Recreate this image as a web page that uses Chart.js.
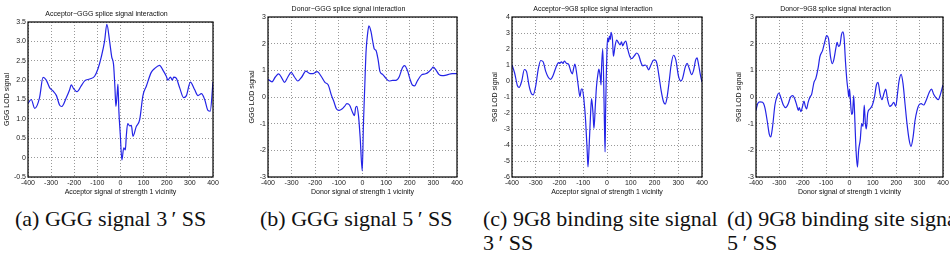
<!DOCTYPE html>
<html>
<head>
<meta charset="utf-8">
<script src="https://cdn.jsdelivr.net/npm/chart.js@4.4.1/dist/chart.umd.min.js"></script>
<style>
  html, body { margin: 0; padding: 0; background: #fff; }
  body { width: 950px; height: 254px; overflow: hidden; position: relative; }
  canvas { position: absolute; top: 0; }
  .cap {
    position: absolute; top: 207px; white-space: nowrap;
    font-family: "Liberation Serif", serif; font-size: 22px; line-height: 24px; color: #111;
  }
</style>
</head>
<body>
<canvas id="chartA" width="241" height="200" style="left:0px"></canvas>
<canvas id="chartB" width="245" height="200" style="left:240px"></canvas>
<canvas id="chartC" width="246" height="200" style="left:484px"></canvas>
<canvas id="chartD" width="243" height="200" style="left:728px"></canvas>

<div class="cap" style="left:15px">(a) GGG signal 3&#8201;′ SS</div>
<div class="cap" style="left:260px">(b) GGG signal 5&#8201;′ SS</div>
<div class="cap" style="left:483px">(c) 9G8 binding site signal<br>3&#8201;′ SS</div>
<div class="cap" style="left:727px">(d) 9G8 binding site signal<br>5&#8201;′ SS</div>

<script>
// tick positions
const xTicks = [-400, -300, -200, -100, 0, 100, 200, 300, 400];
const yTicksA = [-0.5, 0, 0.5, 1, 1.5, 2, 2.5, 3, 3.5];
const yTicksB = [-3, -2, -1, 0, 1, 2, 3];
const yTicksC = [-6, -5, -4, -3, -2, -1, 0, 1, 2, 3, 4];
const yTicksD = [-3, -2, -1, 0, 1, 2, 3];

// (a) Acceptor-GGG
const xA = [-400,-386,-371,-350,-335,-321,-306,-292,-277,-263,-254,-234,-220,-213,-203,-188,-170,-155,-133,-112,
  -97,-83,-69,-59,-47,-38,-30,-24,-20,-15,-11,-7,-1,6,14,21,25,31,40,47,54,68,83,97,112,133,148,169,184,198,
  205,216,224,230,241,256,273,285,302,321,335,350,364,378,388,400];
const yA = [1.40,1.50,1.27,1.55,2.07,2.0,1.8,1.72,1.6,1.35,1.32,1.55,1.75,1.88,1.78,1.70,1.85,1.98,2.03,2.1,
  2.3,2.6,3.0,3.44,3.0,2.6,2.4,1.8,1.32,1.6,1.9,1.2,0.6,-0.06,0.25,0.2,0.55,0.88,0.82,0.83,0.55,0.8,0.98,1.6,1.85,2.2,2.3,2.38,2.25,2.1,
  2.0,2.08,2.0,2.08,2.05,1.8,1.55,1.6,1.95,1.75,1.6,1.65,1.5,1.22,1.2,1.95];

// (b) Donor-GGG
const xB = [-400,-383,-369,-355,-341,-330,-316,-302,-288,-274,-257,-240,-222,-208,-192,-173,-159,-145,-131,-122,
  -110,-99,-87,-76,-66,-55,-41,-34,-29,-24,-17,-10,-1,4,10,15,22,27,36,43,50,57,66,74,85,99,113,127,141,155,
  169,178,190,200,211,221,232,250,267,281,292,299,312,323,337,358,379,400];
const yB = [0.67,0.57,0.75,0.87,0.7,0.55,0.75,0.92,0.75,0.6,0.75,0.97,0.88,0.88,0.95,0.75,0.55,0.45,0.05,-0.15,
  -0.45,-0.5,-0.45,-0.35,-0.25,-0.3,-0.6,-0.7,-0.4,-0.35,-0.7,-1.5,-2.77,-1.0,0.5,1.7,2.4,2.67,2.45,2.1,1.8,1.75,1.4,0.95,0.85,0.7,0.6,0.62,0.62,0.75,
  1.1,1.18,1.0,0.7,0.45,0.42,0.6,0.83,0.87,0.95,1.05,1.12,1.0,0.85,0.8,0.83,0.88,0.88];

// (c) Acceptor-9G8
const xC = [-400,-389,-377,-370,-359,-348,-339,-328,-318,-311,-300,-290,-279,-269,-258,-248,-238,-227,-215,-204,
  -199,-192,-185,-180,-170,-162,-152,-146,-139,-135,-128,-121,-114,-108,-104,-97,-90,-83,-80,-75,
  -69,-65,-59,-55,-49,-44,-38,-34,-28,-25,-23,-18,-14,-11,-8,-6,-3,0,3,7,
  10,14,17,23,27,34,41,48,55,61,66,73,79,87,97,104,114,125,134,142,
  151,161,168,175,185,196,203,210,220,228,238,245,252,262,270,280,290,301,311,318,
  330,337,346,356,365,373,379,386,393,400];
const yC = [1.0,0.5,-0.3,-0.4,0.0,0.72,0.6,-0.3,-0.8,-0.87,-0.3,0.7,1.28,1.2,0.6,0.25,0.1,0.35,0.85,1.15,
  1.1,1.2,1.1,1.25,1.1,1.05,0.6,0.45,0.9,1.05,0.5,-0.3,-0.98,-0.5,-0.5,-1.2,-2.5,-4.5,-5.37,-4.0,
  -2.0,-1.1,-2.0,-2.97,-1.5,-0.3,0.45,0.75,0.2,-0.25,0.8,1.99,0.0,-2.5,-4.43,-2.0,0.3,2.0,2.7,2.45,
  2.8,2.6,3.04,2.6,1.55,2.2,2.55,2.4,2.25,2.45,2.2,2.4,2.5,2.0,1.5,1.4,1.55,1.75,1.6,1.2,
  0.95,1.0,0.9,0.7,1.0,1.3,1.3,1.1,0.2,-0.6,-1.3,-1.44,-1.1,0.0,1.0,1.61,1.3,0.3,0.0,0.15,
  0.9,1.1,0.8,0.4,0.7,1.3,1.45,1.0,0.4,-0.05];

// (d) Donor-9G8
const xD = [-400,-393,-383,-372,-362,-352,-343,-337,-329,-319,-309,-302,-293,-283,-273,-262,-252,-243,-233,-226,
  -219,-215,-208,-201,-195,-189,-184,-177,-169,-162,-152,-144,-134,-127,-115,-105,-98,-90,-81,-74,
  -67,-58,-53,-47,-41,-34,-28,-23,-17,-11,-7,-3,0,3,9,13,18,23,28,34,
  39,46,52,58,63,68,72,78,87,98,107,115,122,131,139,148,155,163,172,181,
  189,198,205,212,221,229,238,246,255,263,272,280,289,297,307,317,329,340,351,360,
  372,380,389,400];
const yD = [-0.5,-0.25,-0.18,-0.2,-0.4,-0.9,-1.4,-1.5,-1.1,-0.3,0.05,0.15,-0.05,-0.3,-0.4,-0.25,0.0,0.05,-0.1,-0.3,
  -0.5,-0.4,-0.55,-0.35,-0.15,-0.35,-0.45,-0.2,0.0,0.1,0.55,0.7,1.1,1.5,1.75,2.1,2.3,2.2,1.5,1.25,
  1.4,1.85,2.05,1.9,1.95,2.35,2.44,2.2,1.3,0.6,0.3,0.0,0.3,0.0,-0.65,-0.6,0.05,-0.9,-2.0,-2.63,
  -2.0,-1.6,-1.0,-1.1,-0.3,-1.0,-1.2,-0.6,-0.45,-0.3,0.0,0.45,0.55,0.1,-0.1,0.15,0.3,-0.1,-0.35,-0.3,
  -0.2,-0.35,0.1,0.6,0.85,0.5,-0.3,-1.0,-1.6,-1.85,-1.5,-0.9,-0.5,-0.3,-0.25,-0.3,-0.1,0.15,0.3,0.1,
  -0.05,-0.1,0.1,0.45];

const tickFont = { family: 'Liberation Sans', size: 7 };

// black box around the plot area, like matlab's axes box
const boxPlugin = {
  id: 'box',
  afterDraw(chart) {
    const { ctx, chartArea: a } = chart;
    ctx.save();
    ctx.strokeStyle = '#000';
    ctx.lineWidth = 1.2;
    ctx.strokeRect(a.left, a.top, a.width, a.height);
    ctx.restore();
  }
};

function makeChart(id, xs, ys, yTicks, title, xTitle, yTitle, titleTop, yTitlePad) {
  return new Chart(document.getElementById(id), {
    type: 'line',
    data: {
      datasets: [{
        data: xs.map((x, i) => ({ x: x, y: ys[i] })),
        borderColor: '#2424e6',
        borderWidth: 1.2,
        pointRadius: 0,
        cubicInterpolationMode: 'monotone',
        fill: false
      }]
    },
    options: {
      responsive: false,
      animation: false,
      layout: { padding: { left: 0, right: 28, top: 0, bottom: 0 } },
      plugins: {
        legend: { display: false },
        tooltip: { enabled: false },
        title: {
          display: true,
          text: title,
          color: '#111',
          font: { family: 'Liberation Sans', size: 7, weight: 'normal' },
          padding: { top: titleTop, bottom: 3.8 }
        }
      },
      scales: {
        x: {
          type: 'linear',
          min: -400, max: 400,
          afterBuildTicks: s => { s.ticks = xTicks.map(v => ({ value: v })); },
          afterFit: s => { s.height = 23; },
          ticks: { color: '#222', font: tickFont, padding: 2, maxRotation: 0, autoSkip: false },
          grid: { color: 'rgba(0,0,0,0.5)', lineWidth: 0.8, drawTicks: false },
          border: { display: false, dash: [1, 2] },
          title: { display: true, text: xTitle, color: '#111', font: tickFont, padding: { top: 0, bottom: 3.8 } }
        },
        y: {
          min: yTicks[0], max: yTicks[yTicks.length - 1],
          afterBuildTicks: s => { s.ticks = yTicks.map(v => ({ value: v })); },
          afterFit: s => { s.width = 28; },
          ticks: { color: '#222', font: tickFont, padding: 2, autoSkip: false },
          grid: { color: 'rgba(0,0,0,0.5)', lineWidth: 0.8, drawTicks: false },
          border: { display: false, dash: [1, 2] },
          title: { display: true, text: yTitle, color: '#111', font: tickFont, padding: { top: yTitlePad, bottom: 0 } }
        }
      }
    },
    plugins: [boxPlugin]
  });
}

makeChart('chartA', xA, yA, yTicksA, 'Acceptor\u2212GGG splice signal interaction',
  'Acceptor signal of strength 1 vicinity', 'GGG LOD signal', 9.8, 2.8);
makeChart('chartB', xB, yB, yTicksB, 'Donor\u2212GGG splice signal interaction',
  'Donor signal of strength 1 vicinity', 'GGG LOD signal', 4.8, 7.8);
makeChart('chartC', xC, yC, yTicksC, 'Acceptor\u22129G8 splice signal interaction',
  'Acceptor signal of strength 1 vicinity', '9G8 LOD signal', 4.8, 6.8);
makeChart('chartD', xD, yD, yTicksD, 'Donor\u22129G8 splice signal interaction',
  'Donor signal of strength 1 vicinity', '9G8 LOD signal', 4.8, 6.8);
</script>
</body>
</html>
